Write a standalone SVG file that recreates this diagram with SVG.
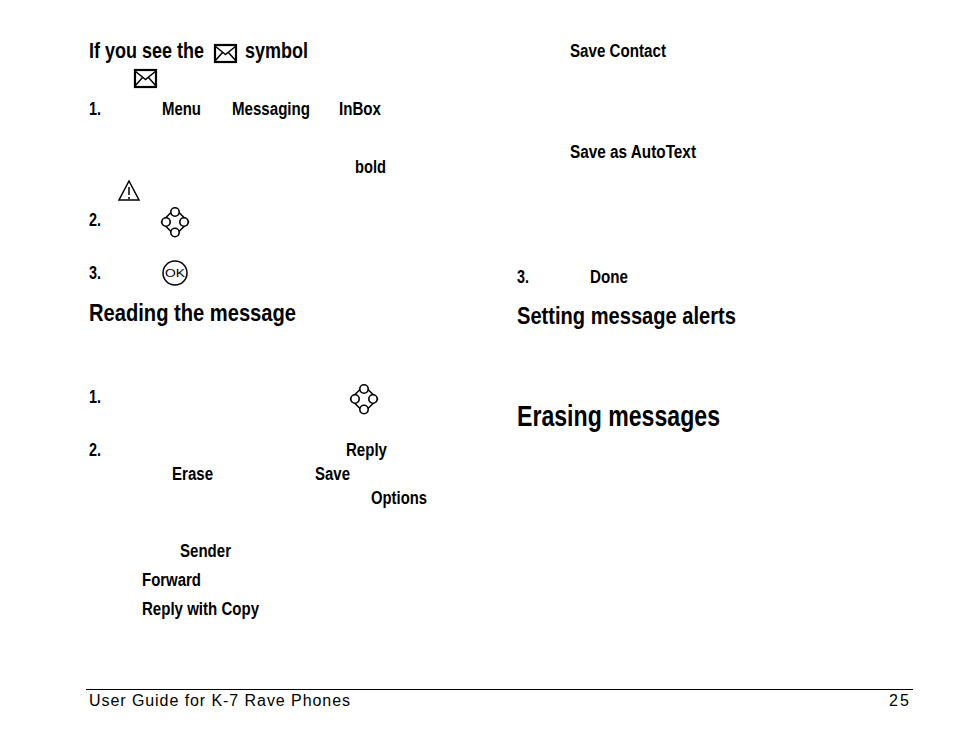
<svg xmlns="http://www.w3.org/2000/svg" width="954" height="742" viewBox="0 0 954 742">
<style>
text{font-family:"Liberation Sans Narrow","Liberation Sans",Arial,sans-serif;font-weight:bold;fill:#000}
.s{font-size:18px}
.h{font-size:21.5px}
.f{font-family:"Liberation Sans",Arial,sans-serif;font-weight:normal;font-size:16px}
.i{fill:none;stroke:#000;stroke-width:1.5}
.e{fill:#fff;stroke:#000;stroke-width:2.2}
.c{fill:#fff;stroke:#000;stroke-width:1.6}
</style>
<defs>
<g id="env"><rect x="1" y="1" width="21" height="17" class="e"/><path d="M1 2L11.5 10.5L22 2M1 17L8.5 8.5M22 17L14.5 8.5" class="i"/></g>
<g id="nav"><path d="M14 1.5L27.5 15L14 28.5L0.5 15Z" class="i" stroke-width="2"/><circle cx="14" cy="5" r="4.2" class="c"/><circle cx="14" cy="25.5" r="4.2" class="c"/><circle cx="5" cy="15" r="4.2" class="c"/><circle cx="23" cy="15" r="4.2" class="c"/></g>
</defs>
<rect width="954" height="742" fill="#fff"/>
<text x="89" y="58" class="h" textLength="115" lengthAdjust="spacingAndGlyphs">If you see the</text>
<use href="#env" x="214" y="44"/>
<text x="245" y="58" class="h" textLength="63" lengthAdjust="spacingAndGlyphs">symbol</text>
<use href="#env" x="134" y="69"/>
<text x="89" y="115" class="s" textLength="12" lengthAdjust="spacingAndGlyphs">1.</text>
<text x="162" y="115" class="s" textLength="39" lengthAdjust="spacingAndGlyphs">Menu</text>
<text x="232" y="115" class="s" textLength="78" lengthAdjust="spacingAndGlyphs">Messaging</text>
<text x="339" y="115" class="s" textLength="42" lengthAdjust="spacingAndGlyphs">InBox</text>
<text x="355" y="173" class="s" textLength="31" lengthAdjust="spacingAndGlyphs">bold</text>
<g id="warning"><path d="M129 181L139 200H119Z" class="i"/><path d="M129 187V195M129 197V199" class="i"/></g>
<text x="89" y="226" class="s" textLength="12" lengthAdjust="spacingAndGlyphs">2.</text>
<use href="#nav" x="161" y="207"/>
<text x="89" y="279" class="s" textLength="12" lengthAdjust="spacingAndGlyphs">3.</text>
<g id="ok"><circle cx="175" cy="273" r="12" class="i"/><text x="175" y="277" text-anchor="middle" textLength="20" lengthAdjust="spacingAndGlyphs" style="font-family:'Liberation Sans',sans-serif;font-size:11px;font-weight:normal">OK</text></g>
<text x="89" y="321" style="font-size:24.5px" textLength="207" lengthAdjust="spacingAndGlyphs">Reading the message</text>
<text x="89" y="403" class="s" textLength="12" lengthAdjust="spacingAndGlyphs">1.</text>
<use href="#nav" x="350" y="384"/>
<text x="89" y="456" class="s" textLength="12" lengthAdjust="spacingAndGlyphs">2.</text>
<text x="346" y="456" class="s" textLength="41" lengthAdjust="spacingAndGlyphs">Reply</text>
<text x="172" y="480" class="s" textLength="41" lengthAdjust="spacingAndGlyphs">Erase</text>
<text x="315" y="480" class="s" textLength="35" lengthAdjust="spacingAndGlyphs">Save</text>
<text x="371" y="504" class="s" textLength="56" lengthAdjust="spacingAndGlyphs">Options</text>
<text x="180" y="557" class="s" textLength="51" lengthAdjust="spacingAndGlyphs">Sender</text>
<text x="142" y="586" class="s" textLength="59" lengthAdjust="spacingAndGlyphs">Forward</text>
<text x="142" y="615" class="s" textLength="117" lengthAdjust="spacingAndGlyphs">Reply with Copy</text>
<text x="570" y="57" class="s" textLength="96" lengthAdjust="spacingAndGlyphs">Save Contact</text>
<text x="570" y="158" class="s" textLength="126" lengthAdjust="spacingAndGlyphs">Save as AutoText</text>
<text x="517" y="283" class="s" textLength="12" lengthAdjust="spacingAndGlyphs">3.</text>
<text x="590" y="283" class="s" textLength="38" lengthAdjust="spacingAndGlyphs">Done</text>
<text x="517" y="324" style="font-size:24.5px" textLength="219" lengthAdjust="spacingAndGlyphs">Setting message alerts</text>
<text x="517" y="426" style="font-size:29px" textLength="203" lengthAdjust="spacingAndGlyphs">Erasing messages</text>
<path d="M86 689.5H913" stroke="#000" stroke-width="1" fill="none"/>
<text x="89" y="706" class="f" textLength="261">User Guide for K-7 Rave Phones</text>
<text x="889" y="706" class="f" textLength="20">25</text>
</svg>
